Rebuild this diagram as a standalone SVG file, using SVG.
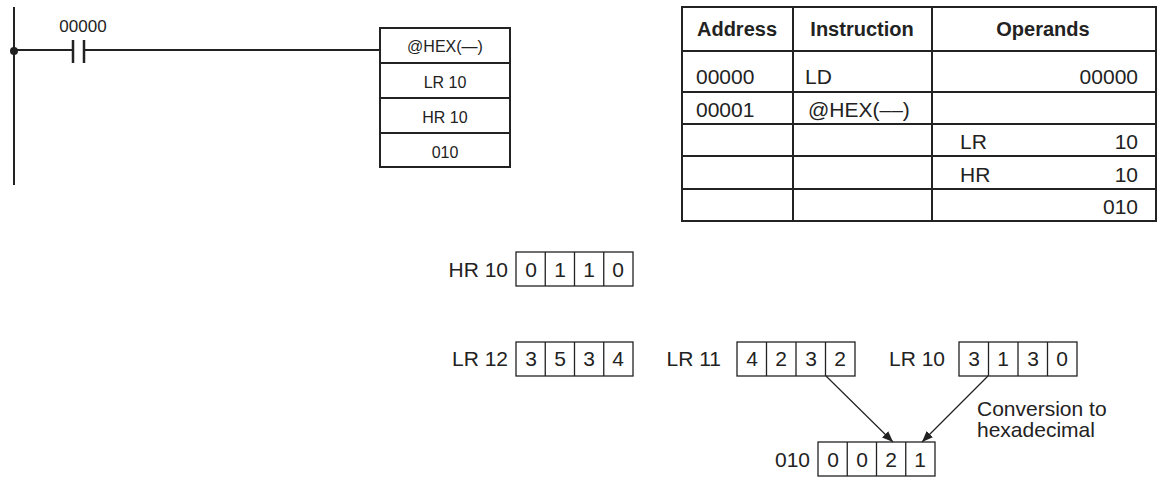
<svg xmlns="http://www.w3.org/2000/svg" width="1159" height="479" viewBox="0 0 1159 479">
<style>
text{font-family:"Liberation Sans",Arial,sans-serif;fill:#222}
.s{font-size:16px}.c{font-size:17px}.m{font-size:21px}.b{font-size:20px;font-weight:bold}.l{font-size:21px}
.k{stroke:#222;fill:none;stroke-width:2}.t{stroke:#222;fill:none;stroke-width:1.3}
</style>
<defs><marker id="a" viewBox="0 0 10 10" refX="10" refY="5" markerWidth="11" markerHeight="11" markerUnits="userSpaceOnUse" orient="auto"><path d="M0,1 L10,5 L0,9z" fill="#222"/></marker></defs>
<g id="ladder">
<line class="k" x1="14" y1="7" x2="14" y2="185"/>
<circle cx="14" cy="51" r="4" fill="#222"/>
<line class="k" x1="14" y1="50" x2="73" y2="50"/>
<line class="k" x1="84" y1="50" x2="380" y2="50"/>
<line x1="73" y1="40" x2="73" y2="63" stroke="#222" stroke-width="2.5"/>
<line x1="84" y1="40" x2="84" y2="63" stroke="#222" stroke-width="2.5"/>
<text class="c" x="83" y="32" text-anchor="middle">00000</text>
</g>
<g id="hexbox">
<rect class="k" x="380" y="28" width="130" height="139"/>
<line class="k" x1="380" y1="63" x2="510" y2="63"/>
<line class="k" x1="380" y1="98" x2="510" y2="98"/>
<line class="k" x1="380" y1="133" x2="510" y2="133"/>
<text class="s" x="445" y="52" text-anchor="middle">@HEX(—)</text>
<text class="s" x="445" y="88" text-anchor="middle">LR 10</text>
<text class="s" x="445" y="123" text-anchor="middle">HR 10</text>
<text class="s" x="445" y="158" text-anchor="middle">010</text>
</g>
<g id="table">
<rect class="k" x="682" y="7" width="474" height="214"/>
<line class="k" x1="793" y1="7" x2="793" y2="221"/>
<line class="k" x1="932" y1="7" x2="932" y2="221"/>
<line class="k" x1="682" y1="51" x2="1156" y2="51"/>
<line class="k" x1="682" y1="92" x2="1156" y2="92"/>
<line class="k" x1="682" y1="124" x2="1156" y2="124"/>
<line class="k" x1="682" y1="156" x2="1156" y2="156"/>
<line class="k" x1="682" y1="189" x2="1156" y2="189"/>
<text class="b" x="737" y="36" text-anchor="middle">Address</text>
<text class="b" x="862" y="36" text-anchor="middle">Instruction</text>
<text class="b" x="1043" y="36" text-anchor="middle">Operands</text>
<text class="m" x="696" y="84">00000</text><text class="m" x="805" y="84">LD</text><text class="m" x="1138" y="84" text-anchor="end">00000</text>
<text class="m" x="696" y="117">00001</text><text class="m" x="808" y="117">@HEX(––)</text>
<text class="m" x="960" y="149">LR</text><text class="m" x="1138" y="149" text-anchor="end">10</text>
<text class="m" x="960" y="182">HR</text><text class="m" x="1138" y="182" text-anchor="end">10</text>
<text class="m" x="1138" y="214" text-anchor="end">010</text>
</g>
<g id="hr10">
<text class="l" x="508" y="277" text-anchor="end">HR 10</text>
<rect class="t" x="516" y="252" width="117" height="34"/>
<path class="t" d="M545.25 252v34M574.5 252v34M603.75 252v34"/>
<g class="l" text-anchor="middle"><text x="531" y="277">0</text><text x="560" y="277">1</text><text x="589" y="277">1</text><text x="618" y="277">0</text></g>
</g>
<g id="lr12">
<text class="l" x="508" y="366" text-anchor="end">LR 12</text>
<rect class="t" x="516" y="342" width="117" height="34"/>
<path class="t" d="M545.25 342v34M574.5 342v34M603.75 342v34"/>
<g class="l" text-anchor="middle"><text x="531" y="366">3</text><text x="560" y="366">5</text><text x="589" y="366">3</text><text x="618" y="366">4</text></g>
</g>
<g id="lr11">
<text class="l" x="721" y="366" text-anchor="end">LR 11</text>
<rect class="t" x="737" y="342" width="118" height="34"/>
<path class="t" d="M766.5 342v34M796 342v34M825.5 342v34"/>
<g class="l" text-anchor="middle"><text x="752" y="366">4</text><text x="781" y="366">2</text><text x="811" y="366">3</text><text x="840" y="366">2</text></g>
</g>
<g id="lr10">
<text class="l" x="945" y="366" text-anchor="end">LR 10</text>
<rect class="t" x="959" y="342" width="118" height="34"/>
<path class="t" d="M988.5 342v34M1018 342v34M1047.5 342v34"/>
<g class="l" text-anchor="middle"><text x="974" y="366">3</text><text x="1003" y="366">1</text><text x="1033" y="366">3</text><text x="1062" y="366">0</text></g>
</g>
<g id="r010">
<text class="l" x="810" y="467" text-anchor="end">010</text>
<rect class="t" x="818" y="442" width="117" height="34"/>
<path class="t" d="M847.25 442v34M876.5 442v34M905.75 442v34"/>
<g class="l" text-anchor="middle"><text x="833" y="467">0</text><text x="862" y="467">0</text><text x="891" y="467">2</text><text x="920" y="467">1</text></g>
</g>
<g id="note"><text class="l" x="977" y="416">Conversion to</text><text class="l" x="977" y="437">hexadecimal</text></g>
<g id="connectors">
<line x1="826" y1="376" x2="893" y2="442" stroke="#222" stroke-width="1.2" marker-end="url(#a)"/>
<line x1="988" y1="376" x2="922" y2="442" stroke="#222" stroke-width="1.2" marker-end="url(#a)"/>
</g>
</svg>
